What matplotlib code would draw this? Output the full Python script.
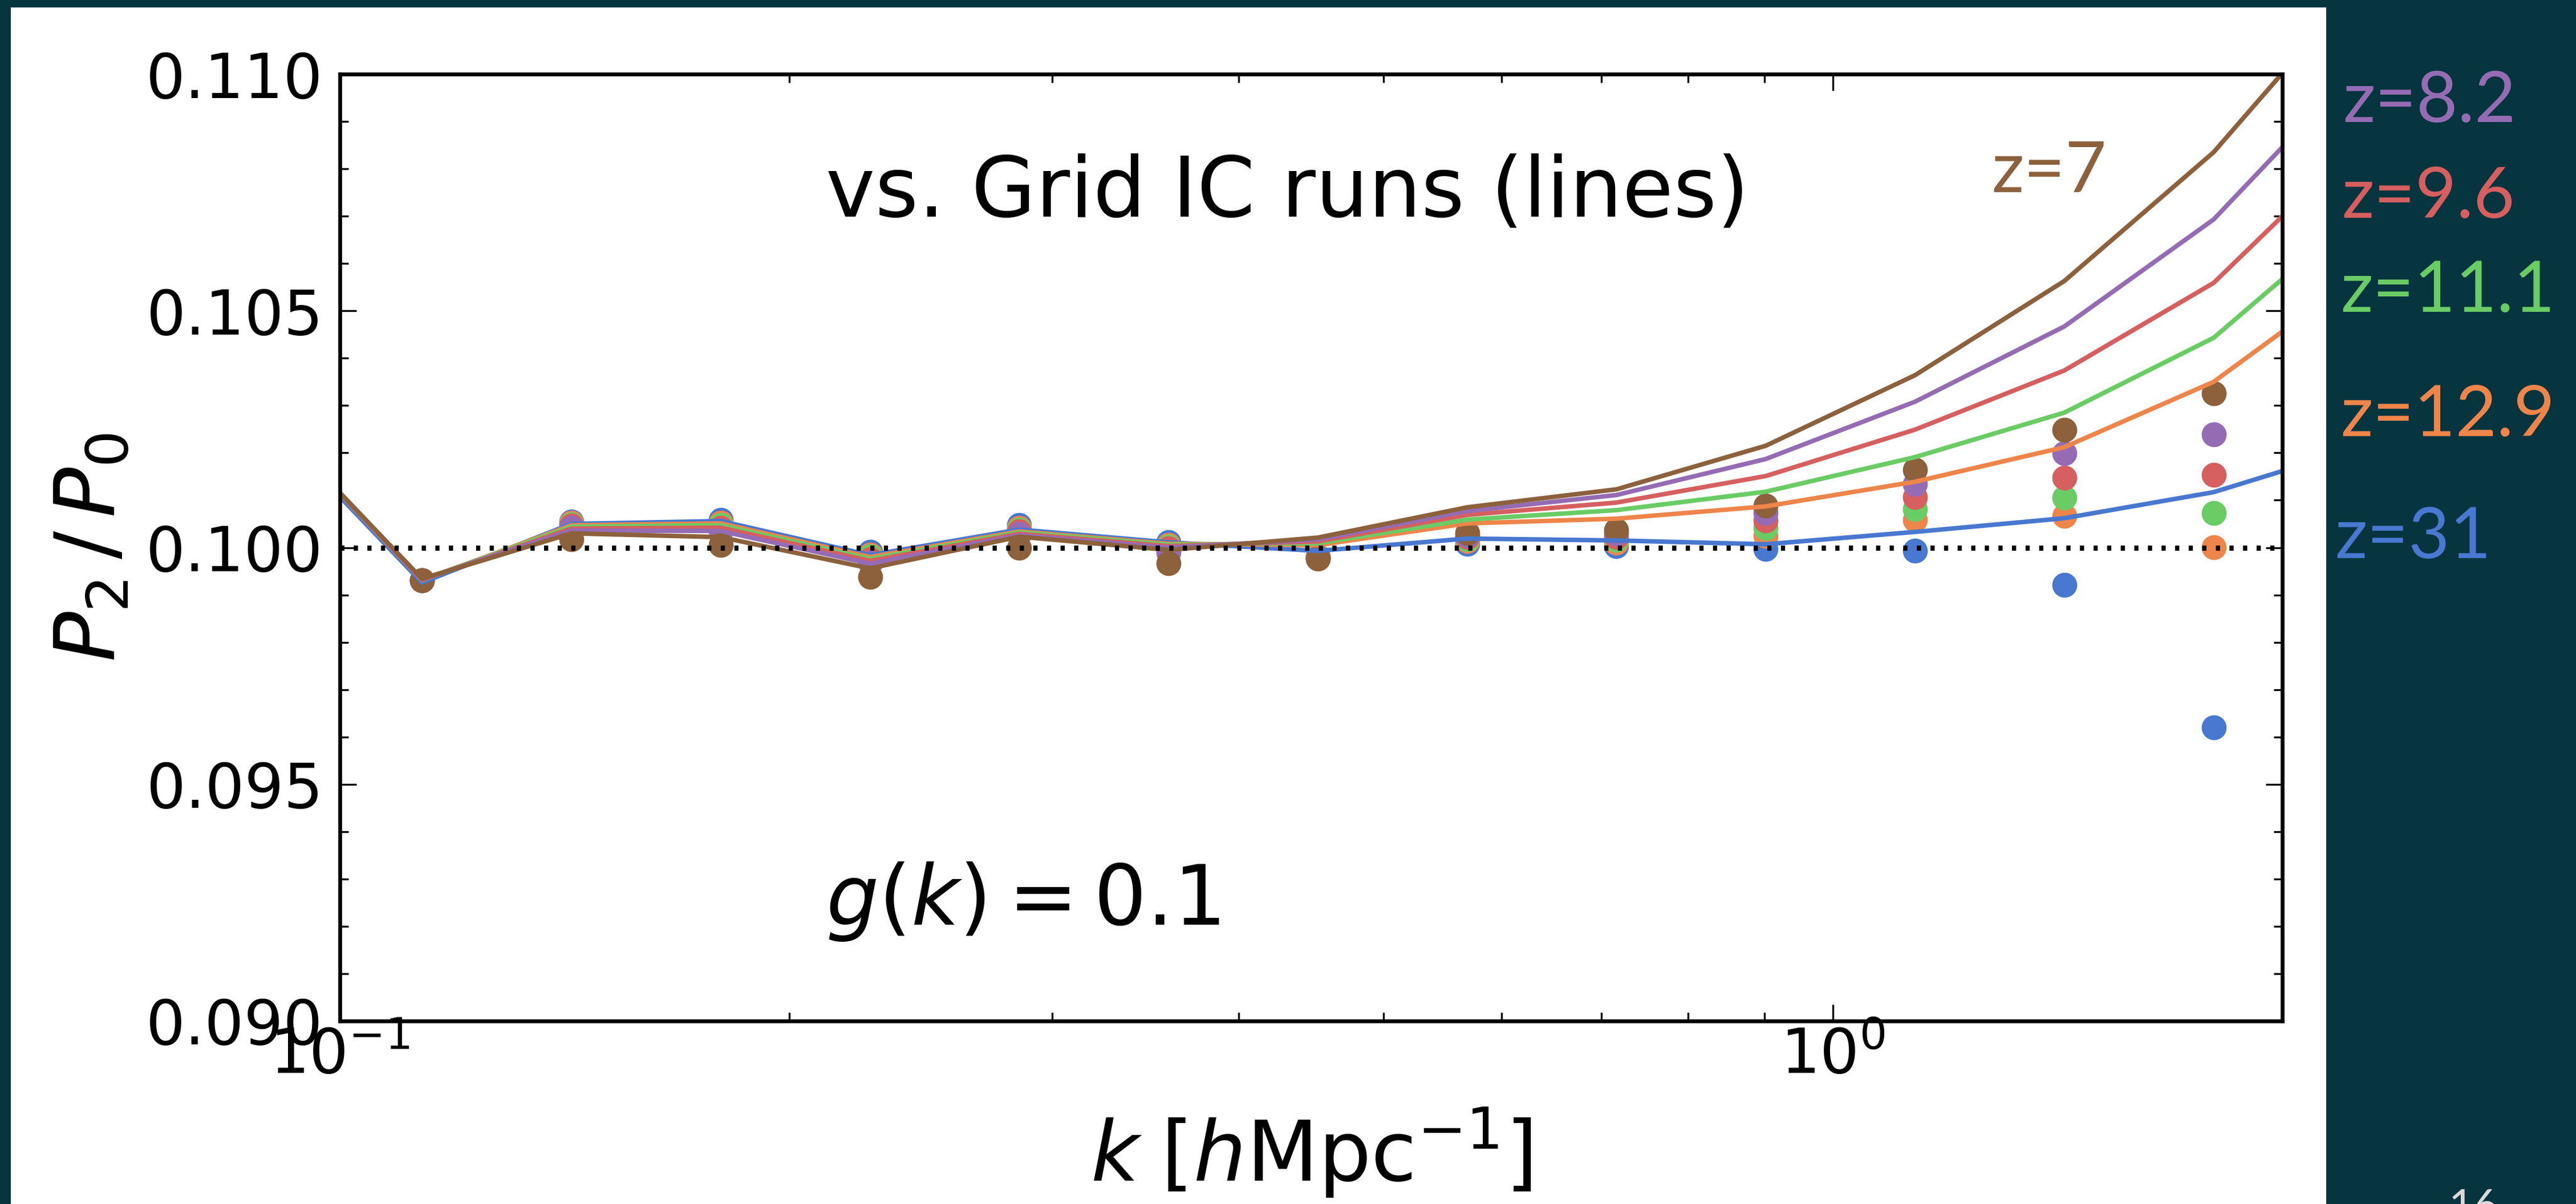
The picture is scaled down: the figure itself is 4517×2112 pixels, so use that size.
import matplotlib
matplotlib.use("Agg")
import matplotlib.pyplot as plt
from matplotlib.patches import Rectangle
from matplotlib.ticker import MultipleLocator, NullFormatter, FixedLocator, FormatStrFormatter

W, H, DPI = 4517, 2112, 300
BG = "#06343f"

# k values of the simulation bins [h/Mpc]
k_lines = [0.0902, 0.1135, 0.1429, 0.1799, 0.2265, 0.2851, 0.3589, 0.4519,
           0.5689, 0.7162, 0.9016, 1.135, 1.429, 1.799, 2.265]
k_pts = k_lines[1:-1]

redshifts = ["31", "12.9", "11.1", "9.6", "8.2", "7"]
colors = ["#4878d0", "#ee854a", "#6acc64", "#d65f5f", "#956cb4", "#8c613c"]

# Grid IC runs (lines)
line_z31 = [0.10255, 0.09926, 0.10050, 0.10056, 0.09984, 0.10038, 0.10011, 0.09993,
            0.10019, 0.10015, 0.10007, 0.10033, 0.10062, 0.10117, 0.10214]
line_z129 = [0.10262, 0.09931, 0.10047, 0.10051, 0.09980, 0.10034, 0.10008, 0.10005,
             0.10051, 0.10061, 0.10087, 0.10139, 0.10212, 0.10350, 0.10581]
line_z111 = [0.10262, 0.09932, 0.10044, 0.10047, 0.09976, 0.10032, 0.10006, 0.10009,
             0.10059, 0.10079, 0.10118, 0.10191, 0.10285, 0.10443, 0.10713]
line_z96 = [0.10263, 0.09932, 0.10040, 0.10042, 0.09972, 0.10029, 0.10003, 0.10013,
            0.10069, 0.10095, 0.10151, 0.10249, 0.10374, 0.10559, 0.10865]
line_z82 = [0.10263, 0.09933, 0.10036, 0.10035, 0.09966, 0.10026, 0.10000, 0.10017,
            0.10077, 0.10111, 0.10187, 0.10308, 0.10467, 0.10693, 0.11025]
line_z7 = [0.10264, 0.09934, 0.10030, 0.10022, 0.09956, 0.10023, 0.09995, 0.10021,
           0.10085, 0.10123, 0.10215, 0.10364, 0.10563, 0.10835, 0.11198]

# glass runs (points)
pts_z31 = [0.09931, 0.10055, 0.10059, 0.09991, 0.10047, 0.10011, 0.09981,
           0.10008, 0.10003, 0.09997, 0.09993, 0.09921, 0.09620]
pts_z129 = [0.09931, 0.10052, 0.10052, 0.09985, 0.10042, 0.10006, 0.09980,
            0.10014, 0.10010, 0.10025, 0.10059, 0.10067, 0.10001]
pts_z111 = [0.09931, 0.10049, 0.10047, 0.09981, 0.10038, 0.10002, 0.09979,
            0.10018, 0.10016, 0.10041, 0.10081, 0.10105, 0.10073]
pts_z96 = [0.09931, 0.10046, 0.10042, 0.09975, 0.10034, 0.09998, 0.09978,
           0.10022, 0.10022, 0.10057, 0.10107, 0.10148, 0.10153]
pts_z82 = [0.09931, 0.10041, 0.10036, 0.09968, 0.10028, 0.09990, 0.09978,
           0.10026, 0.10029, 0.10073, 0.10134, 0.10199, 0.10239]
pts_z7 = [0.09931, 0.10017, 0.10005, 0.09938, 0.09999, 0.09967, 0.09977,
          0.10031, 0.10037, 0.10089, 0.10164, 0.10249, 0.10326]

lines = [line_z31, line_z129, line_z111, line_z96, line_z82, line_z7]
points = [pts_z31, pts_z129, pts_z111, pts_z96, pts_z82, pts_z7]

yticks = [0.090, 0.095, 0.100, 0.105, 0.110]

fig = plt.figure(figsize=(W / DPI, H / DPI), dpi=DPI, facecolor=BG)
fig.add_artist(Rectangle((19 / W, 0), (4079 - 19) / W, 1 - 12.5 / H,
                         transform=fig.transFigure, facecolor="white",
                         edgecolor="none", zorder=0))

ax = fig.add_axes([596 / W, 1 - 1791 / H, (4002 - 596) / W, (1791 - 130) / H])

for c, yp in zip(colors, points):
    ax.scatter(k_pts, yp, s=110, color=c, linewidths=0)
for c, yl in zip(colors, lines):
    ax.plot(k_lines, yl, color=c, lw=1.9)
ax.axhline(0.1, color="black", lw=2.2, ls=(0, (0.8, 1.8)), zorder=3)

ax.set_xscale("log")
ax.set_xlim(0.1, 2.0)
ax.set_ylim(0.09, 0.11)
ax.yaxis.set_major_locator(FixedLocator(yticks))
ax.yaxis.set_major_formatter(FormatStrFormatter("%.3f"))
ax.yaxis.set_minor_locator(MultipleLocator(0.001))
ax.xaxis.set_minor_formatter(NullFormatter())

ax.tick_params(which="both", direction="in", top=True, right=True, width=0.8)
ax.tick_params(which="major", length=7, labelsize=26)
ax.tick_params(which="minor", length=3.5)
ax.tick_params(axis="x", which="major", pad=2)
ax.tick_params(axis="y", which="major", pad=7)
for sp in ax.spines.values():
    sp.set_linewidth(1.6)

ax.set_xlabel(r"$k\;[h{\rm Mpc}^{-1}]$", fontsize=35, labelpad=8)
ax.set_ylabel(r"$P_2\,/\,P_0$", fontsize=35, labelpad=6)

ax.text(0.25, 0.85, "vs. Grid IC runs (lines)", transform=ax.transAxes,
        fontsize=35, ha="left", va="baseline")
ax.text(0.25, 0.102, r"$g(k) = 0.1$", transform=ax.transAxes,
        fontsize=35, ha="left", va="baseline")

# slide overlay labels
fig.text(3492 / W, 1 - 337 / H, "z=7", color=colors[5], fontsize=30,
         family="Lato", ha="left", va="baseline")
side_y = [979, 765, 547, 382, 214]
side_x = [4094, 4104, 4104, 4106, 4108]
for lab, c, xs, ys in zip(redshifts[:5], colors[:5], side_x, side_y):
    fig.text(xs / W, 1 - ys / H, "z=" + lab, color=c, fontsize=30,
             family="Lato", ha="left", va="baseline")
fig.text(4294 / W, -28 / H, "16", color="#d9d9d9", fontsize=18,
         family="Lato", ha="left", va="baseline")

fig.savefig("out.png", dpi=DPI, facecolor=BG)
